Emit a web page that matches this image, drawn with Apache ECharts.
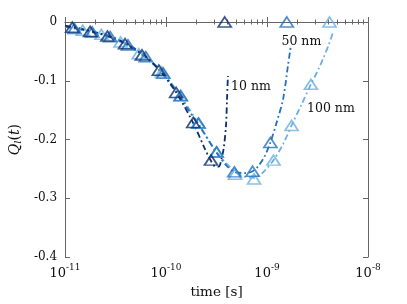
<!DOCTYPE html>
<html><head><meta charset="utf-8">
<script src="https://cdn.jsdelivr.net/npm/echarts@6/dist/echarts.min.js"></script>
<style>html,body{margin:0;padding:0;background:#fff}#c{width:407px;height:304px}</style>
</head><body><div id="c"></div>
<script>
// ---- data ----
const xTickValues = [1e-11, 1e-10, 1e-9, 1e-8];
const yTickValues = [0, -0.1, -0.2, -0.3, -0.4];

// 10 nm
const t10Line = [1e-11,1.5e-11,2e-11,3e-11,4e-11,6e-11,8.5e-11,1.26e-10,1.86e-10,2.4e-10,2.8e-10,3.1e-10,3.33e-10,3.55e-10,3.73e-10,3.93e-10,4.02e-10,4.1e-10];
const q10Line = [-0.006,-0.012,-0.018,-0.027,-0.037,-0.057,-0.081,-0.120,-0.172,-0.214,-0.237,-0.246,-0.246,-0.232,-0.214,-0.175,-0.13,-0.092];
const t10Pts = [1.18e-11,1.77e-11,2.63e-11,3.93e-11,5.78e-11,8.5e-11,1.26e-10,1.86e-10,2.79e-10,3.81e-10];
const q10Pts = [-0.009,-0.016,-0.024,-0.037,-0.056,-0.082,-0.120,-0.171,-0.235,0];

// 50 nm
const t50Line = [1e-11,1.5e-11,2.2e-11,3.3e-11,5e-11,7.5e-11,1.1e-10,1.6e-10,2.2e-10,3.1e-10,4e-10,4.75e-10,6e-10,7.2e-10,8.2e-10,9.5e-10,1.08e-9,1.25e-9,1.44e-9,1.61e-9,1.71e-9];
const q50Line = [-0.008,-0.013,-0.019,-0.029,-0.046,-0.070,-0.103,-0.145,-0.180,-0.220,-0.245,-0.255,-0.257,-0.254,-0.245,-0.228,-0.205,-0.170,-0.132,-0.075,-0.044];
const t50Pts = [1.24e-11,1.86e-11,2.8e-11,4.2e-11,6.3e-11,9.4e-11,1.4e-10,2.1e-10,3.17e-10,4.75e-10,7.2e-10,1.08e-9,1.57e-9];
const q50Pts = [-0.011,-0.017,-0.025,-0.039,-0.059,-0.087,-0.125,-0.172,-0.221,-0.255,-0.254,-0.205,0];

// 100 nm
const t100Line = [1e-11,1.5e-11,2.29e-11,3.55e-11,5.37e-11,9.1e-11,1.39e-10,2.08e-10,3.16e-10,4.82e-10,6e-10,7.44e-10,9e-10,1.16e-9,1.45e-9,1.75e-9,2.2e-9,2.72e-9,3.2e-9,3.6e-9,4.1e-9,4.47e-9];
const q100Line = [-0.008,-0.014,-0.021,-0.034,-0.052,-0.085,-0.126,-0.172,-0.221,-0.255,-0.263,-0.265,-0.257,-0.235,-0.207,-0.176,-0.140,-0.106,-0.082,-0.062,-0.038,-0.019];
const t100Pts = [1.5e-11,2.29e-11,3.55e-11,5.37e-11,9.1e-11,1.39e-10,2.08e-10,3.16e-10,4.82e-10,7.44e-10,1.16e-9,1.75e-9,2.72e-9,4.16e-9];
const q100Pts = [-0.014,-0.021,-0.034,-0.054,-0.085,-0.126,-0.172,-0.221,-0.259,-0.267,-0.235,-0.176,-0.106,0];

const seriesNames = ['10 nm','50 nm','100 nm'];
const labelAnchorT = [4.4e-10, 1.39e-9, 2.49e-9];
const labelAnchorQ = [-0.111, -0.034, -0.147];
const colors = ['#0b2f6e','#2272be','#6bb0e0'];

const zip = (a,b)=>a.map((v,i)=>[v,b[i]]);
const minorTicks = [];
for (let e=-11;e<-8;e++) for (let m=2;m<=9;m++) minorTicks.push(m*Math.pow(10,e));

const serif = 'DejaVu Serif';
const lineDefs = [[t10Line,q10Line],[t50Line,q50Line],[t100Line,q100Line]];
const ptDefs = [[t10Pts,q10Pts],[t50Pts,q50Pts],[t100Pts,q100Pts]];

const series = [];
[2,1,0].forEach(i=>{
  series.push({
    type:'line', name:seriesNames[i], data:zip(lineDefs[i][0],lineDefs[i][1]),
    smooth:0.3, showSymbol:false, symbol:'none', z:2,
    lineStyle:{color:colors[i], width:1.8, type:[6,3,1.8,3]},
    markPoint:{symbol:'circle', symbolSize:0, silent:true,
      data:[{coord:[labelAnchorT[i],labelAnchorQ[i]]}],
      label:{show:true, position:'right', distance:0, formatter:seriesNames[i],
        fontFamily:serif, fontSize:12.5, color:'#111'}}
  });
});
[2,1,0].forEach(i=>{
  series.push({
    type:'scatter', data:zip(ptDefs[i][0],ptDefs[i][1]), clip:false, z:3,
    symbol:'triangle', symbolSize:[13,10],
    itemStyle:{color:'rgba(255,255,255,0)', borderColor:colors[i], borderWidth:1.7}
  });
});

const axisLineStyle = {color:'#666', width:1};
const chart = echarts.init(document.getElementById('c'), null, {renderer:'canvas'});
chart.setOption({
  animation:false,
  backgroundColor:'#fff',
  grid:{left:53, right:39, top:22, bottom:46, containLabel:false},
  xAxis:[
    {type:'log', logBase:10, min:1e-11, max:1e-8, position:'bottom',
     axisLine:{show:true, lineStyle:axisLineStyle},
     axisTick:{show:true, inside:true, length:5, lineStyle:axisLineStyle, customValues:xTickValues},
     axisLabel:{customValues:xTickValues, margin:6, color:'#111',
       formatter:v=>'{b|10}{s|'+Math.round(Math.log10(v))+'}',
       rich:{b:{fontFamily:serif,fontSize:13,color:'#111',padding:[4,0,0,0]},
             s:{fontFamily:serif,fontSize:9,color:'#111',verticalAlign:'top',padding:[0,0,6,0]}}},
     splitLine:{show:false},
     name:'time [s]', nameLocation:'middle', nameGap:27,
     nameTextStyle:{fontFamily:serif, fontSize:13.5, color:'#111'}},
    {type:'log', logBase:10, min:1e-11, max:1e-8, position:'bottom',
     axisLine:{show:false}, axisLabel:{show:false}, splitLine:{show:false},
     axisTick:{show:true, inside:true, length:2.5, lineStyle:axisLineStyle, customValues:minorTicks}},
    {type:'log', logBase:10, min:1e-11, max:1e-8, position:'top',
     axisLine:{show:true, lineStyle:axisLineStyle}, axisLabel:{show:false}, splitLine:{show:false},
     axisTick:{show:true, inside:true, length:5, lineStyle:axisLineStyle, customValues:xTickValues}},
    {type:'log', logBase:10, min:1e-11, max:1e-8, position:'top',
     axisLine:{show:false}, axisLabel:{show:false}, splitLine:{show:false},
     axisTick:{show:true, inside:true, length:2.5, lineStyle:axisLineStyle, customValues:minorTicks}}
  ],
  yAxis:[
    {type:'value', min:-0.4, max:0, interval:0.1, position:'left',
     axisLine:{show:true, lineStyle:axisLineStyle},
     axisTick:{show:true, inside:true, length:5, lineStyle:axisLineStyle},
     axisLabel:{margin:8, fontFamily:serif, fontSize:12, color:'#111',
       formatter:v=>Math.abs(v)<1e-9?'0':v.toFixed(1)},
     splitLine:{show:false},
     name:'{q|Q}{l|l}{p|(}{q|t}{p|)}', nameLocation:'middle', nameGap:37, nameRotate:90,
     nameTextStyle:{rich:{q:{fontFamily:serif,fontStyle:'italic',fontSize:14,color:'#111'},
       l:{fontFamily:serif,fontStyle:'italic',fontSize:10,color:'#111',verticalAlign:'bottom',padding:[6,0,0,0]},
       p:{fontFamily:serif,fontSize:14,color:'#111'}}}},
    {type:'value', min:-0.4, max:0, interval:0.1, position:'right',
     axisLine:{show:true, lineStyle:axisLineStyle},
     axisTick:{show:true, inside:true, length:5, lineStyle:axisLineStyle},
     axisLabel:{show:false}, splitLine:{show:false}}
  ],
  series:series
});
</script></body></html>
